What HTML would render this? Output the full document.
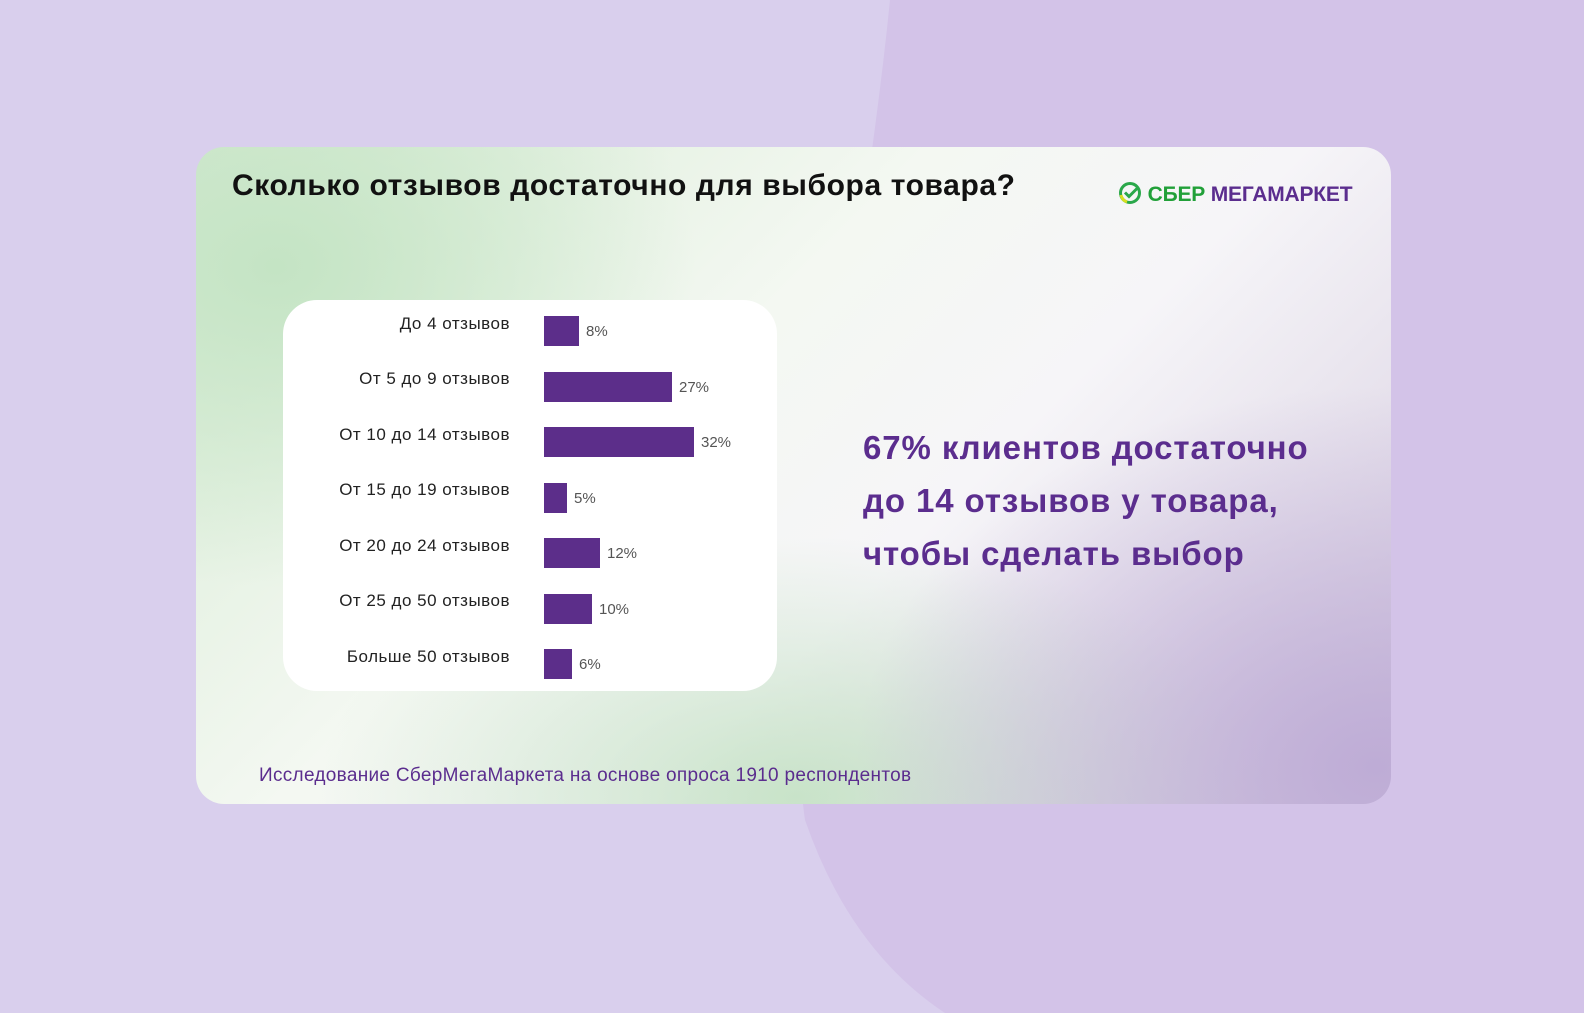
<!DOCTYPE html>
<html><head><meta charset="utf-8"><style>
html,body{margin:0;padding:0;overflow:hidden;width:1584px;height:1013px}
body{position:relative;background:#d9cfed;font-family:"Liberation Sans","DejaVu Sans",sans-serif}
svg.bg{position:absolute;left:0;top:0}
.card{position:absolute;left:196px;top:147px;width:1195px;height:657px;border-radius:28px;overflow:hidden;
background:
radial-gradient(ellipse 520px 380px at 1180px 620px, rgba(190,172,214,1), rgba(190,172,214,0) 100%),
radial-gradient(ellipse 480px 260px at 600px 650px, rgba(196,226,196,0.9), rgba(196,226,196,0) 100%),
radial-gradient(ellipse 420px 320px at 80px 120px, rgba(196,228,196,1), rgba(196,228,196,0) 100%),
linear-gradient(135deg,#d6ebd3 0%,#f4f8f2 40%,#f6f5f8 60%,#d4cade 100%)}
.title{position:absolute;left:36px;top:22px;font-size:30px;font-weight:bold;color:#111;letter-spacing:0.6px}
.logo{position:absolute;left:922px;top:34px;font-size:21px;font-weight:bold;letter-spacing:-0.2px}
.box{position:absolute;left:87px;top:153px;width:494px;height:391px;background:#fff;border-radius:34px}
.lab{position:absolute;right:0;width:300px;text-align:right;font-size:17px;color:#222;letter-spacing:0.5px}
.bar{position:absolute;height:30px;background:#5c2e8a}
.val{position:absolute;font-size:15px;color:#555}
.big{position:absolute;left:667px;top:274px;font-size:33px;font-weight:bold;color:#5b2d8e;line-height:53px;letter-spacing:0.9px}
.foot{position:absolute;left:63px;top:618px;font-size:19px;color:#5b2d8e;letter-spacing:0.3px}
</style></head><body>
<svg class="bg" width="1584" height="1013"><path d="M890,0 C860,300 780,650 805,820 Q850,950 945,1013 L1584,1013 L1584,0 Z" fill="#d3c3e8"/></svg>
<div class="card">
<div class="title">Сколько отзывов достаточно для выбора товара?</div>
<div class="logo"><svg width="24" height="24" viewBox="0 0 24 24" style="vertical-align:-4px"><circle cx="12" cy="12" r="9.5" fill="none" stroke="#2aa84a" stroke-width="3"/><path d="M7 11.5l4 4 8-8" fill="none" stroke="#2aa84a" stroke-width="3"/><path d="M3 14a9.5 9.5 0 0 0 6 7" stroke="#d6e01f" stroke-width="3" fill="none"/></svg> <span style="color:#21a038">СБЕР</span> <span style="color:#5b2d8e">МЕГАМАРКЕТ</span></div>
<div class="box">
<div style="position:absolute;left:0;top:0;width:227px;height:100%">
<div class="lab" style="top:14px">До 4 отзывов</div>
<div class="lab" style="top:69px">От 5 до 9 отзывов</div>
<div class="lab" style="top:125px">От 10 до 14 отзывов</div>
<div class="lab" style="top:180px">От 15 до 19 отзывов</div>
<div class="lab" style="top:236px">От 20 до 24 отзывов</div>
<div class="lab" style="top:291px">От 25 до 50 отзывов</div>
<div class="lab" style="top:347px">Больше 50 отзывов</div>
</div>
<div class="bar" style="left:261px;top:16px;width:35px"></div><div class="val" style="left:303px;top:23px">8%</div>
<div class="bar" style="left:261px;top:72px;width:128px"></div><div class="val" style="left:396px;top:79px">27%</div>
<div class="bar" style="left:261px;top:127px;width:150px"></div><div class="val" style="left:418px;top:134px">32%</div>
<div class="bar" style="left:261px;top:183px;width:23px"></div><div class="val" style="left:291px;top:190px">5%</div>
<div class="bar" style="left:261px;top:238px;width:56px"></div><div class="val" style="left:324px;top:245px">12%</div>
<div class="bar" style="left:261px;top:294px;width:48px"></div><div class="val" style="left:316px;top:301px">10%</div>
<div class="bar" style="left:261px;top:349px;width:28px"></div><div class="val" style="left:296px;top:356px">6%</div>
</div>
<div class="big">67% клиентов достаточно<br>до 14 отзывов у товара,<br>чтобы сделать выбор</div>
<div class="foot">Исследование СберМегаМаркета на основе опроса 1910 респондентов</div>
</div>
</body></html>
